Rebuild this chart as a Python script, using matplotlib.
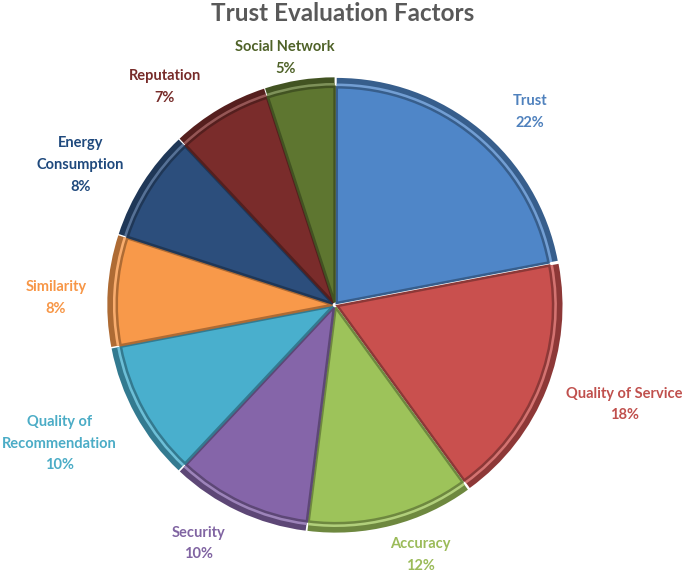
import numpy as np
import matplotlib.pyplot as plt
from matplotlib.colors import to_rgb

# data
factors = ["Trust", "Quality of Service", "Accuracy", "Security",
           "Quality of\nRecommendation", "Similarity", "Energy\nConsumption",
           "Reputation", "Social Network"]
shares = [22, 18, 12, 10, 10, 8, 8, 7, 5]

colors = ["#4F86C8", "#C9504E", "#9DC35A", "#8565A9", "#49AFCD",
          "#F8994A", "#2C4E7C", "#7A2C2B", "#5E7630"]
label_colors = ["#4F81BD", "#C0504D", "#9BBB59", "#8064A2", "#4BACC6",
                "#F79646", "#1F497D", "#772C2A", "#4F6228"]

# label placement (radius units, degrees relative to slice middle)
label_dist = [1.22, 1.36, 1.175, 1.22, 1.37, 1.24, 1.29, 1.23, 1.12]
label_shift = [-5.7, 2.6, 4.4, -4.5, -2.1, 2.2, 3.6, 7.4, 2.4]


def shade(c, f):
    r, g, b = to_rgb(c)
    return (r * f, g * f, b * f)


def tint(c, f):
    r, g, b = to_rgb(c)
    return (r + (1 - r) * f, g + (1 - g) * f, b + (1 - b) * f)


plt.rcParams['font.family'] = ['Lato', 'DejaVu Sans']

fig = plt.figure(figsize=(6.85, 5.76), dpi=100)
ax = fig.add_axes([0, 0, 1, 1])
ax.set_aspect('equal')
ax.axis('off')

explode = [0.012] * len(shares)

# dark rim
rim, _ = ax.pie(shares, colors=[shade(c, 0.7) for c in colors], startangle=90,
                counterclock=False, explode=explode, radius=1.0,
                wedgeprops=dict(linewidth=0))
# light highlight ring
hl, _ = ax.pie(shares, colors=[tint(c, 0.2) for c in colors], startangle=90,
               counterclock=False, explode=explode, radius=0.975,
               wedgeprops=dict(linewidth=0))
# face
face, _ = ax.pie(shares, colors=colors, startangle=90, counterclock=False,
                 explode=explode, radius=0.958,
                 wedgeprops=dict(linewidth=1.8))
for w, c in zip(face, colors):
    w.set_edgecolor(shade(c, 0.7))

ax.set_xlim(-335 / 225, 350 / 225)
ax.set_ylim(-271 / 225, 305 / 225)

for w, name, s, lc, d, sh in zip(rim, factors, shares, label_colors,
                                 label_dist, label_shift):
    mid = np.deg2rad((w.theta1 + w.theta2) / 2 + sh)
    ax.text(d * np.cos(mid), d * np.sin(mid), f"{name}\n{s}%",
            ha='center', va='center', fontsize=10.5, fontweight='bold',
            color=lc, linespacing=1.7)

fig.text(0.5, 0.977, "Trust Evaluation Factors", ha='center', va='center',
         fontsize=17.5, fontweight='bold', color='#595959')

fig.savefig("out.png", dpi=100)
